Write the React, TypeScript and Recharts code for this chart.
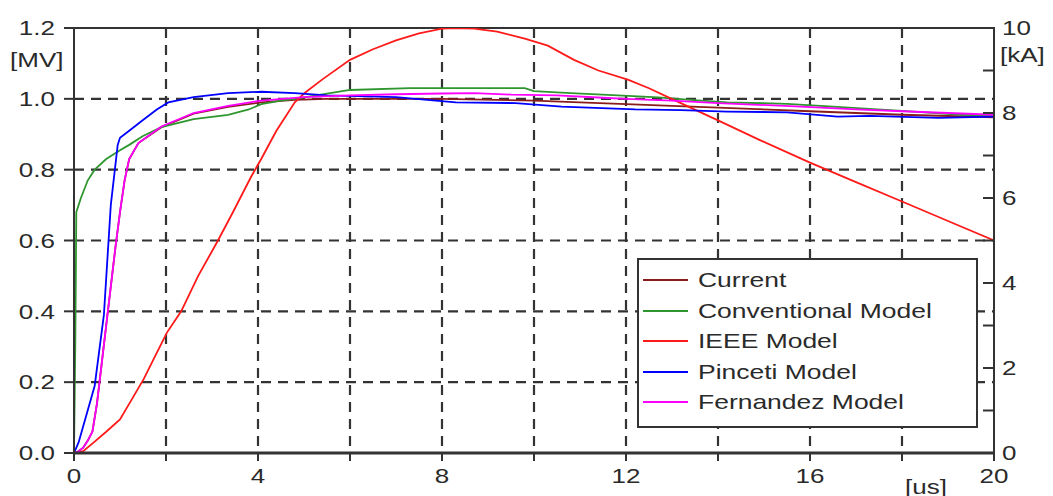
import React from "react";
import { LineChart, Line, XAxis, YAxis, CartesianGrid, ReferenceLine, Legend } from "recharts";

// ---- data (time in us, voltage in MV) ----
const currentT = [0, 0.1, 0.2, 0.3, 0.4, 0.5, 0.6, 0.7, 0.8, 0.9, 1.0, 1.1, 1.2, 1.4, 1.9, 2.6, 3.35, 4.07, 4.8, 5.5, 6, 8, 10, 12, 14, 16, 18, 20];
const currentV = [0, 0.005, 0.015, 0.035, 0.06, 0.14, 0.25, 0.36, 0.47, 0.58, 0.68, 0.77, 0.83, 0.875, 0.92, 0.958, 0.977, 0.99, 0.997, 1.0, 1.0, 1.0, 0.995, 0.985, 0.975, 0.965, 0.955, 0.948];

const convT = [0, 0.03, 0.05, 0.15, 0.3, 0.45, 0.7, 1.0, 1.2, 1.5, 1.9, 2.6, 3.35, 3.8, 4.07, 4.5, 4.8, 5.5, 6, 7.3, 9.8, 10, 10.8, 11.6, 12.7, 13.4, 14.2, 15.5, 16.5, 18, 19.3, 20];
const convV = [0, 0.33, 0.68, 0.72, 0.77, 0.8, 0.83, 0.855, 0.87, 0.895, 0.92, 0.943, 0.955, 0.97, 0.985, 0.995, 1.0, 1.015, 1.025, 1.03, 1.03, 1.022, 1.016, 1.011, 1.004, 0.997, 0.99, 0.986, 0.978, 0.966, 0.955, 0.953];

const ieeeT = [0, 0.2, 0.43, 0.7, 1.0, 1.25, 1.52, 1.75, 2.02, 2.33, 2.7, 3.13, 3.48, 3.85, 4.07, 4.4, 4.8, 5.0, 5.4, 6.0, 6.5, 7.0, 7.5, 8.0, 8.3, 8.7, 9.2, 9.8, 10.3, 10.87, 11.4, 12.04, 12.5, 13.04, 14.07, 14.9, 16, 17, 18, 19, 20];
const ieeeV = [0, 0.005, 0.03, 0.06, 0.095, 0.15, 0.21, 0.27, 0.34, 0.4, 0.5, 0.6, 0.686, 0.78, 0.83, 0.91, 0.99, 1.015, 1.055, 1.11, 1.14, 1.165, 1.185, 1.198, 1.2, 1.198, 1.19, 1.17, 1.15, 1.11, 1.08, 1.054, 1.03, 0.997, 0.935, 0.884, 0.82, 0.765, 0.71, 0.655, 0.6];

const pincetiT = [0, 0.1, 0.45, 0.65, 0.8, 0.95, 1.0, 1.2, 1.5, 1.8, 2.05, 2.6, 3.35, 4.07, 4.8, 5.5, 7, 8.3, 9.6, 10.6, 12.2, 13.2, 14.2, 15.5, 16.6, 17.3, 18.8, 20];
const pincetiV = [0, 0.03, 0.19, 0.39, 0.7, 0.87, 0.89, 0.91, 0.94, 0.97, 0.99, 1.005, 1.016, 1.02, 1.016, 1.01, 1.005, 0.99, 0.988, 0.978, 0.97, 0.968, 0.964, 0.962, 0.95, 0.952, 0.946, 0.95];

const fernT = [0, 0.1, 0.2, 0.3, 0.4, 0.5, 0.6, 0.7, 0.8, 0.9, 1.0, 1.1, 1.2, 1.4, 1.9, 2.6, 3.35, 4.07, 5, 6, 7, 8, 8.7, 9.5, 10.5, 11.5, 12, 13, 14, 15.8, 17, 18, 20];
const fernV = [0, 0.005, 0.015, 0.035, 0.06, 0.14, 0.25, 0.36, 0.47, 0.58, 0.68, 0.77, 0.83, 0.875, 0.922, 0.96, 0.98, 0.995, 1.005, 1.01, 1.013, 1.015, 1.016, 1.012, 1.01, 1.003, 1.0, 0.995, 0.988, 0.978, 0.97, 0.965, 0.955];

const seriesNames = ["Current", "Conventional Model", "IEEE Model", "Pinceti Model", "Fernandez Model"];
const seriesColors = ["#8b1c1c", "#2f962f", "#ff1a1a", "#0000ff", "#ff00ff"];
const seriesT = [currentT, convT, ieeeT, pincetiT, fernT];
const seriesV = [currentV, convV, ieeeV, pincetiV, fernV];

const xTicks = [0, 2, 4, 6, 8, 10, 12, 14, 16, 18, 20];
const xLabelTicks = [0, 4, 8, 12, 16, 20];
const yTicks = [0, 0.2, 0.4, 0.6, 0.8, 1.0, 1.2];
const yGrid = [0.2, 0.4, 0.6, 0.8, 1.0];
const xGrid = [2, 4, 6, 8, 10, 12, 14, 16, 18];
const kaTicks = [0, 1, 2, 3, 4, 5, 6, 7, 8, 9, 10];
const kaLabelTicks = [0, 2, 4, 6, 8, 10];

const FONT = "'Liberation Sans', Arial, sans-serif";
const TXT = "#2a2a2a";
const SX = 1.3;

const toPts = (ts: number[], vs: number[]) => ts.map((t, i) => ({ t, v: vs[i] }));

const LeftTick = (p: any) => (
  <text transform={`translate(${p.x},${p.y}) scale(${SX},1)`} textAnchor="end" dy="0.36em" fontSize={20} fill={TXT} fontFamily={FONT}>
    {Number(p.payload.value).toFixed(1)}
  </text>
);

const BottomTick = (p: any) => {
  const v = Number(p.payload.value);
  if (!xLabelTicks.includes(v)) return <g />;
  return (
    <text transform={`translate(${p.x},${p.y}) scale(${SX},1)`} textAnchor="middle" dy={20} fontSize={20} fill={TXT} fontFamily={FONT}>
      {v}
    </text>
  );
};

const RightTick = (p: any) => {
  const v = Number(p.payload.value);
  return (
    <g>
      <line x1={p.x - 12} x2={p.x} y1={p.y} y2={p.y} stroke="#333" strokeWidth={2} />
      {kaLabelTicks.includes(v) ? (
        <text transform={`translate(${p.x + 7},${p.y}) scale(${SX},1)`} textAnchor="start" dy="0.36em" fontSize={20} fill={TXT} fontFamily={FONT}>
          {v}
        </text>
      ) : null}
    </g>
  );
};

const LegendBox = () => (
  <div style={{ border: "2px solid #333", background: "#fff", width: 337, height: 161, paddingTop: 5, boxSizing: "content-box", fontFamily: FONT }}>
    {seriesNames.map((n, i) => (
      <div key={n} style={{ height: 30.5, display: "flex", alignItems: "center" }}>
        <div style={{ marginLeft: 4, width: 45, height: 2, background: seriesColors[i] }} />
        <span style={{ marginLeft: 10, fontSize: 21, color: TXT, display: "inline-block", transform: "scaleX(1.26)", transformOrigin: "left center", whiteSpace: "nowrap" }}>{n}</span>
      </div>
    ))}
  </div>
);

const unitStyle: React.CSSProperties = {
  position: "absolute",
  fontFamily: FONT,
  fontSize: 20,
  lineHeight: "20px",
  color: TXT,
  transform: `scaleX(${SX})`,
  transformOrigin: "left center",
  whiteSpace: "nowrap",
};

export default function App() {
  return (
    <div style={{ position: "relative", width: 1045, height: 488 }}>
      <LineChart width={1045} height={488} margin={{ top: 20, right: 9, bottom: 10, left: 10 }}>
        <CartesianGrid
          xAxisId="x"
          yAxisId="left"
          stroke="#333"
          strokeWidth={2.2}
          strokeDasharray="10 7"
          horizontalValues={yGrid}
          verticalValues={xGrid}
        />
        <XAxis
          xAxisId="x"
          dataKey="t"
          type="number"
          domain={[0, 20]}
          ticks={xTicks}
          interval={0}
          allowDataOverflow
          height={33}
          tickSize={8}
          tickMargin={2}
          axisLine={{ stroke: "#333", strokeWidth: 3 }}
          tickLine={{ stroke: "#333", strokeWidth: 2 }}
          tick={<BottomTick />}
        />
        <YAxis
          yAxisId="left"
          type="number"
          domain={[0, 1.2]}
          ticks={yTicks}
          interval={0}
          allowDataOverflow
          width={56}
          tickSize={10}
          tickMargin={9}
          axisLine={{ stroke: "#333", strokeWidth: 2 }}
          tickLine={{ stroke: "#333", strokeWidth: 2 }}
          tick={<LeftTick />}
        />
        <YAxis
          yAxisId="right"
          orientation="right"
          type="number"
          domain={[0, 10]}
          ticks={kaTicks}
          interval={0}
          allowDataOverflow
          width={50}
          tickSize={1}
          tickMargin={0}
          axisLine={{ stroke: "#333", strokeWidth: 2 }}
          tickLine={false}
          tick={<RightTick />}
        />
        <ReferenceLine xAxisId="x" yAxisId="left" y={1.2} stroke="#333" strokeWidth={2} />
        {seriesNames.map((n, i) => (
          <Line
            key={n}
            xAxisId="x"
            yAxisId="left"
            data={toPts(seriesT[i], seriesV[i])}
            dataKey="v"
            name={n}
            type="linear"
            stroke={seriesColors[i]}
            strokeWidth={1.8}
            dot={false}
            activeDot={false}
            isAnimationActive={false}
          />
        ))}
        <Legend
          layout="vertical"
          align="center"
          verticalAlign="middle"
          content={<LegendBox />}
          wrapperStyle={{ position: "absolute", left: 629, top: 250, width: 341, height: 166 }}
        />
      </LineChart>
      <span style={{ ...unitStyle, left: 2, top: 42 }}>[MV]</span>
      <span style={{ ...unitStyle, left: 992, top: 37 }}>[kA]</span>
      <span style={{ ...unitStyle, left: 897, top: 469 }}>[us]</span>
    </div>
  );
}
